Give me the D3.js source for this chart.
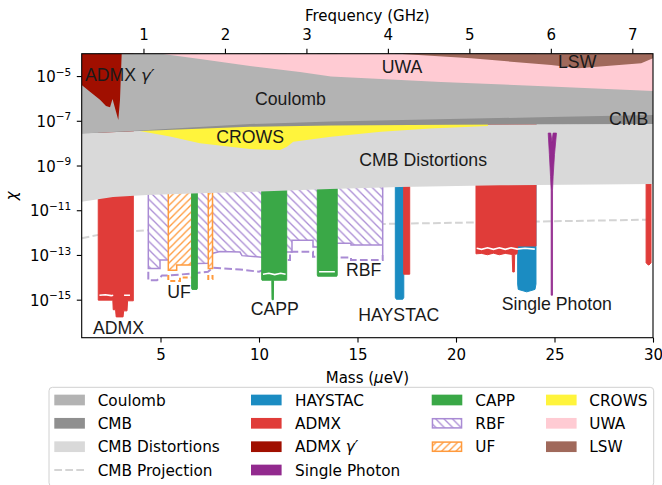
<!DOCTYPE html>
<html><head><meta charset="utf-8">
<script src="https://cdn.jsdelivr.net/npm/d3@7"></script>
<style>body{margin:0;background:#fff}svg{display:block}</style>
</head><body>
<svg id="c" width="662" height="485"></svg>
<script>
// ---------------- data (mass in µeV, chi as log10) ----------------
const massDomain = [1, 30];
const logChiDomain = [-16.7, -4];
const massTicks = [5, 10, 15, 20, 25, 30];
const freqTicks = [1, 2, 3, 4, 5, 6, 7];
const chiTickExps = [-15, -13, -11, -9, -7, -5];
const GHzPerMicroeV = 0.241799;

const coulombLower = [[1,-7.571],[3.959,-7.436],[9.543,-7.145],[13.655,-7.034],[19.695,-6.922],[24.772,-6.832],[30,-6.743]];
const cmbDistTop = [[1,-7.571],[3.959,-7.459],[9.543,-7.271],[13.655,-7.213],[19.695,-7.181],[30,-7.145]];
const cmbDistBottom = [[1,-10.622],[2.589,-10.412],[4.315,-10.322],[7.005,-10.246],[10.05,-10.166],[13.6,-10.054],[17.16,-9.964],[22.23,-9.888],[30,-9.83]];
const cmbProjection = [[1,-12.25],[1.94,-12.09],[2.95,-11.98],[4.47,-11.89],[7.01,-11.80],[9.54,-11.73],[12.08,-11.69],[17.16,-11.60],[22.23,-11.53],[27.3,-11.46],[30,-11.42]];
const crowsLower = [[3.87,-7.45],[5.482,-7.705],[7.005,-8.009],[9.543,-8.264],[11.07,-8.309],[11.42,-8.161],[11.74,-7.937],[13.655,-7.714],[16.19,-7.49],[18.68,-7.347],[21.62,-7.235]];
const crowsUpper = -6.8;
const uwaLower = [[5.127,-4.013],[7.005,-4.237],[9.543,-4.55],[12.08,-4.819],[13.655,-5.02],[19.24,-5.266],[24.77,-5.468],[30,-5.669]];
const lswLower = [[17.056,-4.0],[20.767,-4.206],[24.83,-4.506],[26.2,-4.653],[29.4,-4.43],[30,-4.206]];
const admxGammaLower = [[1,-5.40],[1.421,-5.70],[1.929,-6.06],[2.234,-6.34],[2.437,-6.39],[2.564,-6.03],[2.858,-6.966],[2.944,-6.07],[3.03,-4.0]];

const admxBars = [
  [[1.84,-15.02],[2.58,-15.02],[2.6,-15.45],[2.72,-15.45],[2.75,-15.77],[3.1,-15.77],[3.13,-15.5],[3.3,-15.5],[3.33,-15.05],[3.62,-15.05]],
  [[17.345,-13.86],[17.65,-13.86]],
  [[21.015,-12.95],[21.3,-12.93],[21.6,-12.99],[21.9,-12.92],[22.2,-12.99],[22.5,-12.93],[22.85,-12.98],[22.88,-13.76],[22.96,-13.76],[22.98,-12.98],[23.1,-12.95],[23.13,-12.6],[24.06,-12.6]],
  [[29.65,-13.35],[29.76,-13.45],[29.8,-13.45],[29.9,-13.35]]
];
const haystacBars = [
  [[16.92,-14.9],[16.97,-14.98],[17.3,-14.98],[17.35,-14.9]],
  [[23.13,-14.3],[23.16,-14.54],[23.59,-14.65],[24.01,-14.54],[24.06,-14.3]]
];
const cappBars = [
  [[6.58,-14.5],[6.6,-14.54],[6.85,-14.54],[6.87,-14.5]],
  [[10.137,-14.1],[10.15,-14.13],[10.65,-14.13],[10.66,-15.0],[10.73,-15.0],[10.74,-14.13],[11.39,-14.13],[11.406,-14.1]],
  [[12.96,-13.9],[12.98,-13.95],[13.95,-13.95],[13.97,-13.9]]
];
const rbfLimit = [[4.381,-13.6],[4.975,-13.6],[4.975,-13.23],[5.396,-13.23],[6.599,-13.32],[6.853,-13.38],[7.411,-13.37],[7.665,-12.92],[8.02,-12.85],[9.036,-12.87],[9.137,-13.03],[10.137,-13.1],[11.406,-12.87],[11.675,-12.87],[11.675,-12.34],[12.741,-12.34],[12.741,-12.64],[12.959,-12.64],[13.975,-12.48],[14.67,-12.48],[14.67,-12.56],[16.279,-12.56],[16.279,-13.0]];
const rbfProjection = [[4.381,-13.75],[4.381,-14.13],[4.822,-14.13],[5.076,-13.92],[5.396,-13.92],[6.599,-13.83],[7.411,-13.75],[7.665,-13.57],[9.036,-13.65],[10.0,-13.75],[11.406,-13.23],[11.574,-13.23],[11.574,-12.86],[12.741,-12.86],[12.741,-13.08],[12.959,-13.08],[13.975,-13.11],[14.67,-13.11],[14.67,-13.23],[16.279,-13.23],[16.279,-13.0]];
const ufLimits = [
  [[5.396,-13.68],[5.822,-13.68],[5.822,-13.45],[6.584,-13.45]],
  [[7.426,-13.6],[7.64,-13.6]]
];
const ufProjections = [
  [[5.396,-13.9],[5.396,-14.17],[5.99,-14.17],[5.99,-14.01],[6.584,-14.01]],
  [[7.426,-13.9],[7.426,-14.08],[7.64,-14.08],[7.64,-13.9]]
];
const singlePhoton = [[24.68,-7.55],[24.81,-7.55],[24.87,-7.95],[24.93,-7.55],[25.1,-7.55],[25.0,-8.5],[24.93,-9.5],[24.9,-10.1],[24.9,-14.8],[24.83,-14.8],[24.83,-10.1],[24.8,-9.5],[24.74,-8.5]];
// white gaps inside exclusion bars
const gapLines = [
  [[1.9,-14.8],[2.2,-14.78],[2.5,-14.82],[2.6,-14.8]],
  [[3.15,-14.8],[3.45,-14.8]],
  [[10.2,-13.86],[10.5,-13.82],[10.8,-13.88],[11.1,-13.82],[11.35,-13.86]],
  [[13.05,-13.75],[13.85,-13.75]],
  [[21.05,-12.7],[21.3,-12.75],[21.6,-12.68],[21.9,-12.75],[22.2,-12.68],[22.5,-12.75],[22.8,-12.68],[23.1,-12.74],[23.5,-12.7],[24.0,-12.74]]
];

const labels = [
  {t:"Coulomb", m:9.797, c:-6.309},
  {t:"UWA", m:16.228, c:-4.85},
  {t:"LSW", m:25.178, c:-4.626},
  {t:"CMB", m:27.766, c:-7.19},
  {t:"CROWS", m:7.832, c:-7.982},
  {t:"CMB Distortions", m:15.091, c:-9.011},
  {t:"ADMX", m:1.574, c:-16.541},
  {t:"UF", m:5.345, c:-14.917},
  {t:"CAPP", m:9.579, c:-15.691},
  {t:"RBF", m:14.416, c:-13.933},
  {t:"HAYSTAC", m:15.041, c:-15.946},
  {t:"Single Photon", m:22.32, c:-15.468}
];
const gammaLabel = {t:"ADMX ", g:"γ′", m:1.168, c:-5.208};

const colors = {
  coulomb:"#b3b3b3", cmb:"#8f8f8f", cmbDist:"#d9d9d9", cmbProj:"#d4d4d4",
  haystac:"#1b8cc2", admx:"#e03c39", admxGamma:"#a00f00", single:"#922a8e",
  capp:"#3aa847", rbf:"#a98bd4", uf:"#ff9a3c", crows:"#fff43c", uwa:"#ffcbd3", lsw:"#a0695b"
};
const legendCols = [
  [["Coulomb","coulomb","fill"],["CMB","cmb","fill"],["CMB Distortions","cmbDist","fill"],["CMB Projection","cmbProj","dash"]],
  [["HAYSTAC","haystac","fill"],["ADMX","admx","fill"],[["ADMX ","γ′"],"admxGamma","fill"],["Single Photon","single","fill"]],
  [["CAPP","capp","fill"],["RBF","rbf","hatchB"],["UF","uf","hatchF"]],
  [["CROWS","crows","fill"],["UWA","uwa","fill"],["LSW","lsw","fill"]]
];

// ---------------- drawing ----------------
const L = 81.7, R = 653, T = 53.7, B = 337.7;
const svg = d3.select("#c");
const x = d3.scaleLinear().domain(massDomain).range([L, R]);
const y = d3.scaleLog().domain([10**logChiDomain[0], 10**logChiDomain[1]]).range([B, T]);
const xf = d3.scaleLinear().domain(massDomain.map(m => m*GHzPerMicroeV)).range([L, R]);
const line = d3.line().x(d => x(d[0])).y(d => y(10**d[1]));
const TOP = logChiDomain[1];
const barPath = (lower, top=TOP) => line([[lower[0][0], top], ...lower, [lower[lower.length-1][0], top]]) + "Z";
const bandPath = (upper, lower) => line(upper.concat(lower.slice().reverse())) + "Z";

const defs = svg.append("defs");
defs.append("clipPath").attr("id","clip").append("rect").attr("x",L).attr("y",T).attr("width",R-L).attr("height",B-T);
function hatch(id, color, back, s) {
  const p = defs.append("pattern").attr("id",id).attr("patternUnits","userSpaceOnUse").attr("width",s).attr("height",s);
  p.append("rect").attr("width",s).attr("height",s).attr("fill","#fff");
  const d = back
    ? `M0,0L${s},${s}M${-s/2},${s/2}L${s/2},${s*1.5}M${s/2},${-s/2}L${s*1.5},${s/2}`
    : `M0,${s}L${s},0M${-s/2},${s/2}L${s/2},${-s/2}M${s/2},${s*1.5}L${s*1.5},${s/2}`;
  p.append("path").attr("d",d).attr("stroke",color).attr("stroke-width",1.3);
}
hatch("hB", colors.rbf, true, 8.4);
hatch("hF", colors.uf, false, 7.2);

const g = svg.append("g").attr("clip-path","url(#clip)");
const dash = "7.7,3.3";

// CMB projection
g.append("path").attr("d", line(cmbProjection)).attr("fill","none").attr("stroke",colors.cmbProj).attr("stroke-width",2).attr("stroke-dasharray",dash);

// RBF
g.append("path").attr("d", barPath(rbfLimit)).attr("fill","url(#hB)");
g.append("path").attr("d", line([[rbfLimit[0][0],TOP], ...rbfLimit, [rbfLimit[rbfLimit.length-1][0], TOP]])).attr("fill","none").attr("stroke",colors.rbf).attr("stroke-width",1.5);
g.append("path").attr("d", line(rbfProjection)).attr("fill","none").attr("stroke",colors.rbf).attr("stroke-width",2).attr("stroke-dasharray",dash);
// UF
ufLimits.forEach((u,i) => {
  g.append("path").attr("d", barPath(u)).attr("fill","url(#hF)");
  g.append("path").attr("d", line([[u[0][0],TOP], ...u, [u[u.length-1][0],TOP]])).attr("fill","none").attr("stroke",colors.uf).attr("stroke-width",1.5);
  g.append("path").attr("d", line(ufProjections[i])).attr("fill","none").attr("stroke",colors.uf).attr("stroke-width",2).attr("stroke-dasharray","5,3");
});
// CAPP, HAYSTAC, ADMX
cappBars.forEach(b => g.append("path").attr("d", barPath(b)).attr("fill",colors.capp).attr("stroke",colors.capp).attr("stroke-width",1));
haystacBars.forEach(b => g.append("path").attr("d", barPath(b)).attr("fill",colors.haystac).attr("stroke",colors.haystac).attr("stroke-width",1));
admxBars.forEach(b => g.append("path").attr("d", barPath(b)).attr("fill",colors.admx).attr("stroke",colors.admx).attr("stroke-width",1));
gapLines.forEach(l => g.append("path").attr("d", line(l)).attr("fill","none").attr("stroke","#fff").attr("stroke-width",1.6));

// Grey bounds
g.append("path").attr("d", bandPath(cmbDistTop, cmbDistBottom)).attr("fill",colors.cmbDist);
g.append("path").attr("d", line([[crowsLower[0][0],crowsUpper], ...crowsLower, [crowsLower[crowsLower.length-1][0],crowsUpper]])+"Z").attr("fill",colors.crows);
g.append("path").attr("d", barPath(cmbDistTop)).attr("fill",colors.cmb);
g.append("path").attr("d", barPath(coulombLower)).attr("fill",colors.coulomb);
g.append("path").attr("d", barPath(uwaLower)).attr("fill",colors.uwa);
g.append("path").attr("d", barPath(lswLower)).attr("fill",colors.lsw);
g.append("path").attr("d", barPath(admxGammaLower)).attr("fill",colors.admxGamma);
g.append("path").attr("d", line(singlePhoton)+"Z").attr("fill",colors.single).attr("stroke",colors.single).attr("stroke-width",0.8);

// labels
const lf = "'Liberation Sans', Arial, sans-serif";
labels.forEach(l => svg.append("text").attr("x", x(l.m)).attr("y", y(10**l.c)).text(l.t)
  .attr("font-family", lf).attr("font-size", 17.7).attr("fill","#1a1a1a"));
{
  const t = svg.append("text").attr("x", x(gammaLabel.m)).attr("y", y(10**gammaLabel.c))
    .attr("font-family", lf).attr("font-size", 17.7).attr("fill","#1a1a1a");
  t.append("tspan").text(gammaLabel.t);
  t.append("tspan").text(gammaLabel.g).attr("font-family","'DejaVu Sans'").attr("font-style","italic").attr("font-size",16.5);
}

// axes
const af = "'DejaVu Sans', sans-serif";
function styleAxis(sel) {
  sel.select(".domain").remove();
  sel.selectAll(".tick line").attr("stroke","#000").attr("stroke-width",1.1);
  sel.selectAll(".tick text").attr("font-family",af).attr("font-size",15).attr("fill","#000");
}
svg.append("g").attr("transform",`translate(0,${B})`)
  .call(d3.axisBottom(x).tickValues(massTicks).tickSize(4.9).tickPadding(6.8).tickFormat(d3.format("d")))
  .call(styleAxis);
svg.append("g").attr("transform",`translate(0,${T})`)
  .call(d3.axisTop(xf).tickValues(freqTicks).tickSize(4.9).tickPadding(8.5).tickFormat(d3.format("d")))
  .call(styleAxis);
const ya = svg.append("g").attr("transform",`translate(${L},0)`)
  .call(d3.axisLeft(y).tickValues(chiTickExps.map(e => 10**e)).tickSize(4.9).tickFormat(""))
  .call(styleAxis);
ya.selectAll(".tick text").remove();
chiTickExps.forEach(e => {
  const t = svg.append("text").attr("x", L-10.5).attr("y", y(10**e)+6).attr("text-anchor","end")
    .attr("font-family",af).attr("font-size",15).attr("fill","#000");
  t.append("tspan").text("10");
  t.append("tspan").text("−"+Math.abs(e)).attr("font-size",10.5).attr("dy",-6.3);
});
svg.append("rect").attr("x",L).attr("y",T).attr("width",R-L).attr("height",B-T)
  .attr("fill","none").attr("stroke","#000").attr("stroke-width",1.1);

svg.append("text").attr("x",(L+R)/2).attr("y",21).attr("text-anchor","middle")
  .attr("font-family",af).attr("font-size",15).text("Frequency (GHz)");
{
  const t = svg.append("text").attr("x",(L+R)/2).attr("y",383).attr("text-anchor","middle")
    .attr("font-family",af).attr("font-size",15);
  t.append("tspan").text("Mass (");
  t.append("tspan").text("μ").attr("font-style","italic");
  t.append("tspan").text("eV)");
}
svg.append("text").attr("transform",`translate(16.5,${(T+B)/2}) rotate(-90)`).attr("text-anchor","middle")
  .attr("font-family",af).attr("font-size",15).attr("font-style","italic").text("χ");

// legend
svg.append("rect").attr("x",49).attr("y",387.3).attr("width",604.7).attr("height",99).attr("rx",3.5)
  .attr("fill","#fff").attr("stroke","#d0d0d0").attr("stroke-width",1);
const colX = [[54.3,97.7],[251,295],[431.7,475.3],[546,589.3]];
const rowY = [400,423.3,446.7,470];
legendCols.forEach((col,ci) => col.forEach((it,ri) => {
  const px = colX[ci][0], py = rowY[ri];
  if (it[2]==="fill") {
    svg.append("rect").attr("x",px).attr("y",py-5.35).attr("width",30.6).attr("height",10.7).attr("fill",colors[it[1]]);
  } else if (it[2]==="dash") {
    svg.append("line").attr("x1",px).attr("x2",px+30.6).attr("y1",py).attr("y2",py)
      .attr("stroke",colors[it[1]]).attr("stroke-width",2).attr("stroke-dasharray",dash);
  } else {
    svg.append("rect").attr("x",px+0.75).attr("y",py-5.35+0.75).attr("width",29.1).attr("height",9.2)
      .attr("fill", it[2]==="hatchB" ? "url(#hB)" : "url(#hF)").attr("stroke",colors[it[1]]).attr("stroke-width",1.5);
  }
  const t = svg.append("text").attr("x",colX[ci][1]).attr("y",py+5.5).attr("font-family",af).attr("font-size",15.3)
    .attr("fill","#000");
  if (Array.isArray(it[0])) {
    t.append("tspan").text(it[0][0]);
    t.append("tspan").text(it[0][1]).attr("font-style","italic");
  } else t.text(it[0]);
}));
</script>
</body></html>
